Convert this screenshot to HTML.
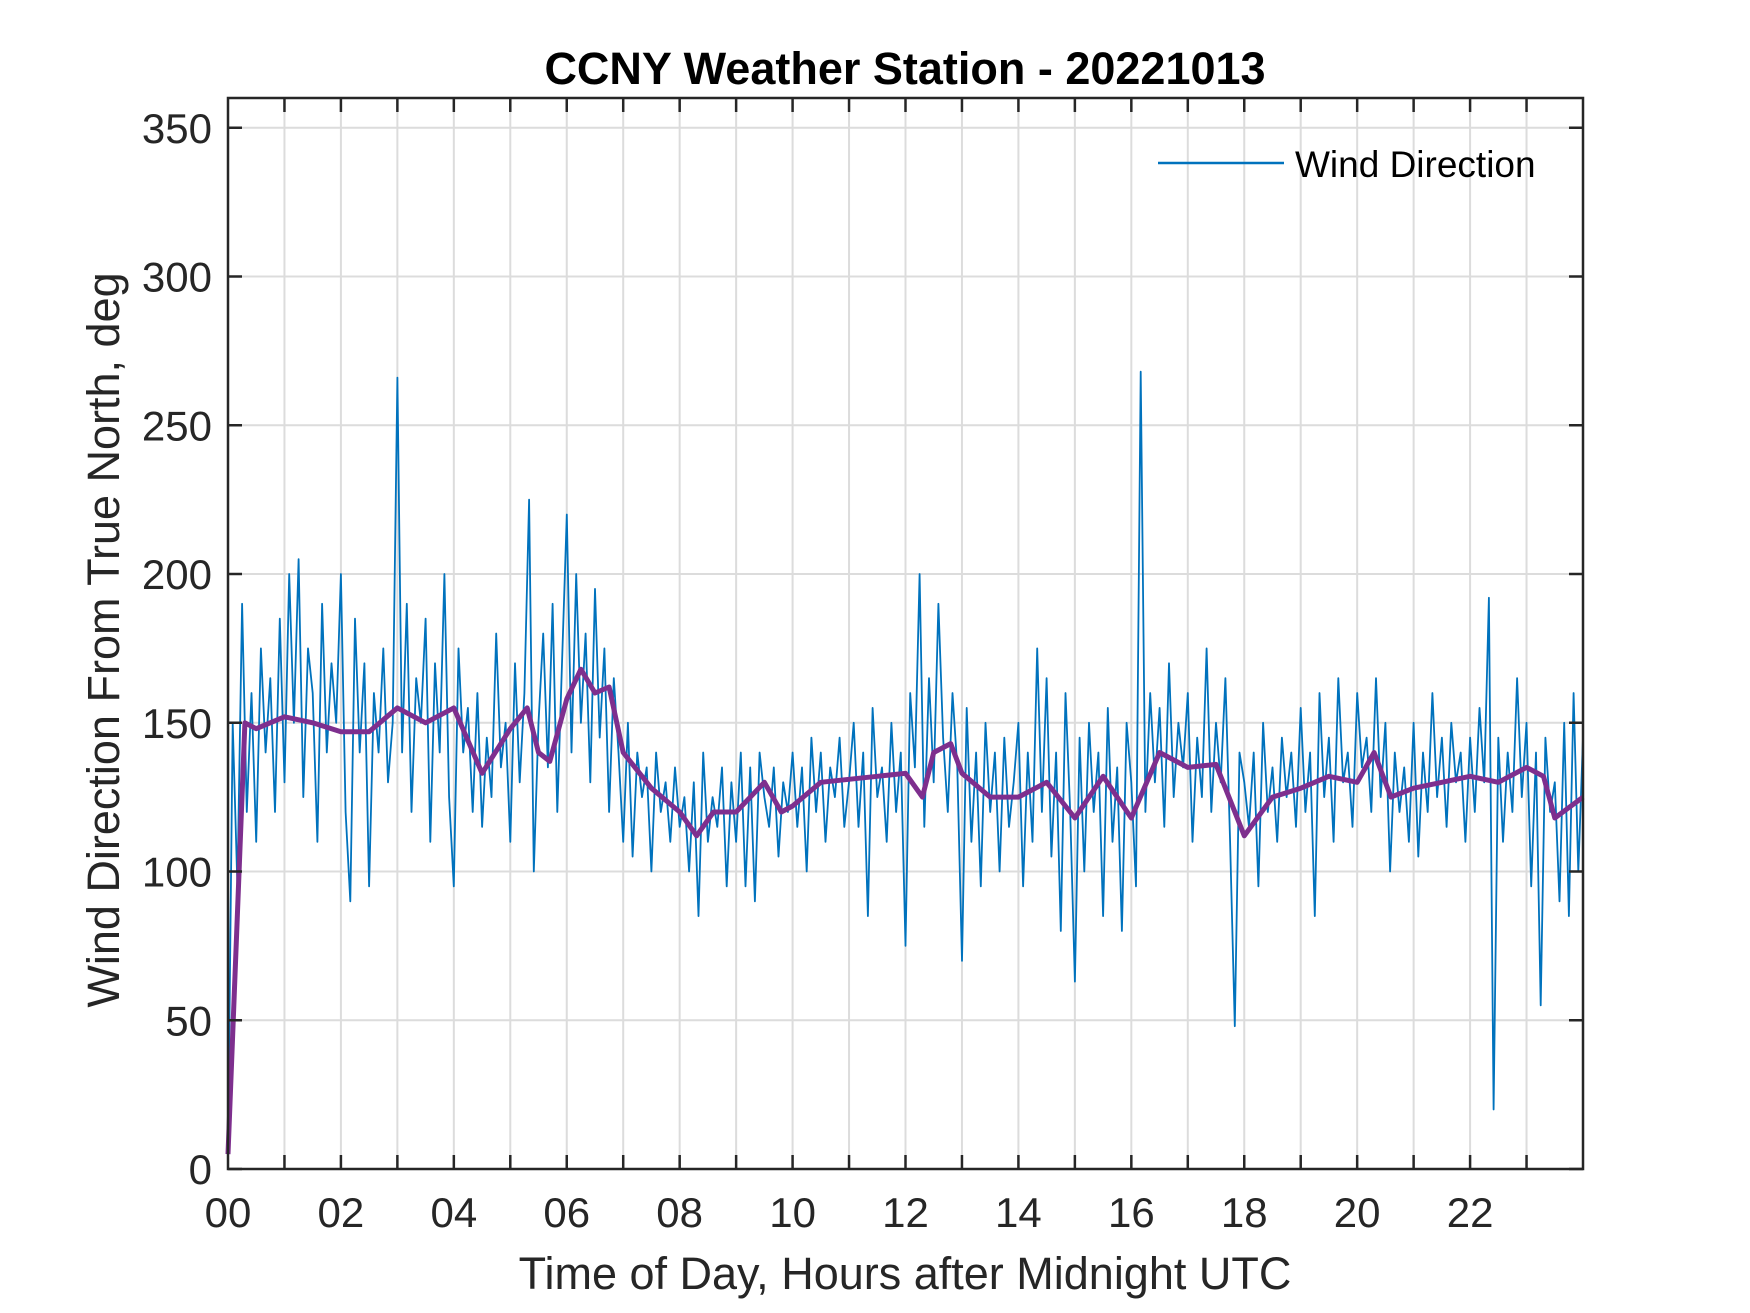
<!DOCTYPE html>
<html><head><meta charset="utf-8"><style>
html,body{margin:0;padding:0;background:#fff;}
svg{display:block;font-family:"Liberation Sans",Arial,sans-serif;}
</style></head><body>
<svg id="chart" width="1750" height="1313" viewBox="0 0 1750 1313">
<rect x="0" y="0" width="1750" height="1313" fill="#fff"/>
<g id="grid"></g>
<g id="series"></g>
<g id="axes"></g>
<text x="905" y="84" text-anchor="middle" font-size="45" font-weight="bold" fill="#000">CCNY Weather Station - 20221013</text>
<text x="905" y="1289" text-anchor="middle" font-size="45" fill="#262626">Time of Day, Hours after Midnight UTC</text>
<text x="0" y="0" transform="translate(119,640) rotate(-90)" text-anchor="middle" font-size="45" fill="#262626">Wind Direction From True North, deg</text>
<g>
<line x1="1158" y1="163" x2="1284" y2="163" stroke="#0072BD" stroke-width="2.5"/>
<text x="1295" y="177" font-size="37" fill="#000">Wind Direction</text>
</g>
</svg>
<script>
const rawValues = [
5,150,95,190,120,160,110,175,140,165,120,185,
130,200,150,205,125,175,160,110,190,140,170,150,
200,120,90,185,140,170,95,160,140,175,130,150,
266,140,190,120,165,150,185,110,170,140,200,125,
95,175,140,155,120,160,115,145,125,180,135,150,
110,170,130,160,225,100,150,180,135,190,120,170,
220,140,200,150,180,130,195,145,175,120,165,140,
110,150,105,140,125,135,100,140,120,130,110,135,
115,125,100,130,85,140,110,125,115,135,95,130,
110,140,95,135,90,140,125,115,135,105,130,120,
140,115,135,100,145,120,140,110,135,125,145,115,
130,150,115,140,85,155,125,135,110,150,120,140,
75,160,135,200,115,165,130,190,145,120,160,135,
70,155,110,140,95,150,120,140,100,145,115,130,
150,95,140,110,175,120,165,105,140,80,160,120,
63,145,100,150,120,140,85,155,110,135,80,150,
130,95,268,120,160,130,155,115,170,125,150,135,
160,110,145,125,175,120,150,130,165,110,48,140,
130,115,140,95,150,120,135,110,145,125,140,115,
155,120,140,85,160,125,145,110,165,130,140,115,
160,135,145,120,165,125,150,100,140,120,135,110,
150,105,140,120,160,125,145,115,150,130,140,110,
145,120,155,130,192,20,145,110,140,120,165,125,
150,95,140,55,145,120,130,90,150,85,160,100,145
];
const rawStepHours = 1/12;
const smoothHours = [0,0.3,0.5,1,1.5,2,2.5,3,3.5,4,4.5,5,5.3,5.5,5.7,6,6.25,6.5,6.75,7,7.5,8,8.3,8.6,9,9.5,9.8,10,10.5,11,11.5,12,12.3,12.5,12.8,13,13.5,14,14.5,15,15.5,16,16.5,17,17.5,18,18.5,19,19.5,20,20.3,20.6,21,21.5,22,22.5,23,23.3,23.5,24];
const smoothValues = [5,150,148,152,150,147,147,155,150,155,133,148,155,140,137,158,168,160,162,140,128,120,112,120,120,130,120,122,130,131,132,133,125,140,143,133,125,125,130,118,132,118,140,135,136,112,125,128,132,130,140,125,128,130,132,130,135,132,118,125];
const xTicks = [0,2,4,6,8,10,12,14,16,18,20,22];
const xTickLabels = ["00","02","04","06","08","10","12","14","16","18","20","22"];
const yTicks = [0,50,100,150,200,250,300,350];

const L=228,R=1583,T=98,B=1169, XMAX=24, YMAX=360;
const sx=h=>L+(h/XMAX)*(R-L);
const sy=v=>B-(v/YMAX)*(B-T);
const NS="http://www.w3.org/2000/svg";
function mk(tag,parent,attrs){const e=document.createElementNS(NS,tag);for(const k in attrs)e.setAttribute(k,attrs[k]);parent.appendChild(e);return e;}
const grid=document.getElementById('grid'), axes=document.getElementById('axes'), series=document.getElementById('series');
for(let h=1;h<24;h++){const l=mk('line',grid,{x1:sx(h),y1:T,x2:sx(h),y2:B,stroke:'#dcdcdc','stroke-width':2});

}
yTicks.forEach(v=>{const l=mk('line',grid,{x1:L,y1:sy(v),x2:R,y2:sy(v),stroke:'#dcdcdc','stroke-width':2});

});
let d='';rawValues.forEach((v,i)=>{d+=(i?'L':'M')+sx(i*rawStepHours).toFixed(1)+' '+sy(v).toFixed(1);});
const p1=mk('path',series,{d:d,fill:'none',stroke:'#0072BD','stroke-width':1.8,'stroke-linejoin':'round'});


let d2='';smoothHours.forEach((h,i)=>{d2+=(i?'L':'M')+sx(h).toFixed(1)+' '+sy(smoothValues[i]).toFixed(1);});
const p2=mk('path',series,{d:d2,fill:'none',stroke:'#7E2F8E','stroke-width':5,'stroke-linejoin':'round'});


const box=mk('rect',axes,{x:L,y:T,width:R-L,height:B-T,fill:'none',stroke:'#262626','stroke-width':2.5});


for(let h=1;h<24;h++){
 const t1=mk('line',axes,{x1:sx(h),y1:B,x2:sx(h),y2:B-14,stroke:'#262626','stroke-width':2.5});
 
 
 const t2=mk('line',axes,{x1:sx(h),y1:T,x2:sx(h),y2:T+14,stroke:'#262626','stroke-width':2.5});
 
 
}
xTicks.forEach((h,i)=>{const t=mk('text',axes,{x:sx(h),y:1227,'text-anchor':'middle','font-size':42,fill:'#262626'});t.textContent=xTickLabels[i];

});
yTicks.forEach(v=>{
 const a=mk('line',axes,{x1:L,y1:sy(v),x2:L+14,y2:sy(v),stroke:'#262626','stroke-width':2.5});
 
 
 const b=mk('line',axes,{x1:R,y1:sy(v),x2:R-14,y2:sy(v),stroke:'#262626','stroke-width':2.5});
 
 
 const t=mk('text',axes,{x:212,y:sy(v)+15,'text-anchor':'end','font-size':42,fill:'#262626'});t.textContent=v;
 
 
});
</script>
</body></html>
